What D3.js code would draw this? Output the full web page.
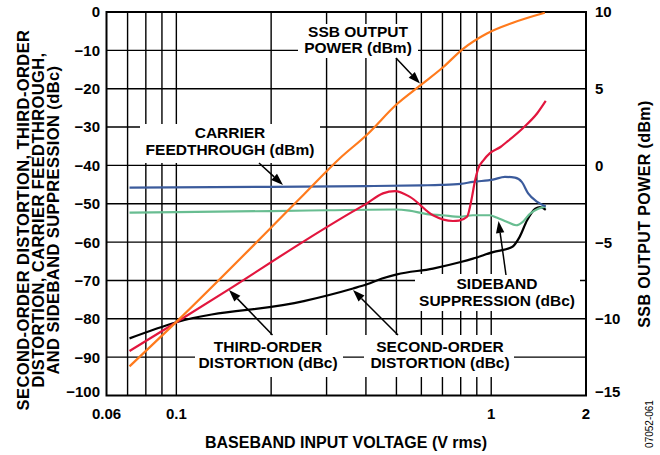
<!DOCTYPE html>
<html><head><meta charset="utf-8">
<script src="https://cdn.jsdelivr.net/npm/d3@7"></script>
<style>
body{margin:0;background:#fff}
svg{display:block}
text{font-family:"Liberation Sans",Arial,Helvetica,sans-serif;font-weight:bold;fill:#000}
</style>
</head><body>
<svg id="c" width="660" height="455"></svg>
<script>
// ---- tick / grid definitions ----
const xTickValues = [0.06, 0.1, 1, 2];
const xTickLabels = ["0.06", "0.1", "1", "2"];
const xGridValues = [0.07, 0.08, 0.09, 0.1, 0.2, 0.3, 0.4, 0.5, 0.6, 0.7, 0.8, 0.9, 1];
const leftTickValues = [0, -10, -20, -30, -40, -50, -60, -70, -80, -90, -100];
const rightTickValues = [10, 5, 0, -5, -10, -15];

// ---- series ----
// SSB output power (dBm, right axis)
const ssbV = [0.071, 0.1, 0.254, 0.33, 0.403, 0.502, 0.594, 0.703, 0.814, 0.969, 1.172, 1.48];
const ssbP = [-13.1, -10.2, -1.9, 0.45, 2.0, 4.0, 5.2, 6.4, 7.6, 8.6, 9.3, 9.95];
// Carrier feedthrough (dBm, left axis)
const cftV = [0.071, 0.2, 0.4, 0.6, 0.69, 0.8, 0.875, 1.013, 1.106, 1.19, 1.25, 1.31, 1.40, 1.49];
const cftD = [-45.8, -45.6, -45.4, -45.2, -45.1, -44.8, -44.3, -43.7, -43.0, -43.2, -44.3, -47.3, -49.5, -50.7];
// Sideband suppression (dBc)
const sbsV = [0.071, 0.1, 0.2, 0.3, 0.495, 0.55, 0.625, 0.7, 0.795, 0.875, 0.99, 1.04, 1.12, 1.2, 1.26, 1.327, 1.41, 1.49];
const sbsD = [-52.3, -52.2, -51.9, -51.7, -51.5, -51.8, -52.7, -53.0, -53.4, -53.0, -53.0, -53.6, -54.7, -55.6, -54.7, -52.6, -51.3, -50.7];
// Third-order distortion (dBc)
const hd3V = [0.071, 0.1, 0.149, 0.254, 0.364, 0.403, 0.453, 0.495, 0.552, 0.653, 0.756, 0.79, 0.838, 0.869, 0.888, 0.908, 0.946, 0.991, 1.07, 1.12, 1.26, 1.40, 1.49];
const hd3D = [-88.4, -80.9, -72.0, -59.8, -52.0, -49.9, -47.3, -46.7, -48.2, -53.0, -54.5, -54.4, -53.4, -48.2, -44.0, -41.0, -38.6, -36.8, -35.2, -33.9, -30.3, -26.4, -23.2];
// Second-order distortion (dBc)
const hd2V = [0.071, 0.1, 0.254, 0.364, 0.403, 0.45, 0.502, 0.653, 0.8, 0.875, 1.013, 1.164, 1.23, 1.3, 1.38, 1.43, 1.49];
const hd2D = [-85.1, -80.9, -75.4, -72.1, -71.0, -69.5, -68.4, -66.9, -65.2, -64.3, -62.6, -61.3, -58.7, -54.3, -51.3, -50.9, -51.6];

// ---- layout ----
const L = 106.5, R = 586, T = 12, B = 395.5;
const svg = d3.select("#c");
const x = d3.scaleLog().domain([0.06, 2]).range([L, R]);
const y = d3.scaleLinear().domain([-100, 0]).range([B, T]);
const yR = d3.scaleLinear().domain([-15, 10]).range([B, T]);
const fmt = v => (v < 0 ? "\u2212" + Math.abs(v) : String(v));

svg.append("rect").attr("width", 660).attr("height", 455).attr("fill", "#fff");

// gridlines
const g = svg.append("g").attr("stroke", "#000").attr("stroke-width", 1.4);
g.selectAll("line.v").data(xGridValues).join("line")
  .attr("x1", d => x(d)).attr("x2", d => x(d)).attr("y1", T).attr("y2", B);
g.selectAll("line.h").data(leftTickValues.slice(1, -1)).join("line")
  .attr("x1", L).attr("x2", R).attr("y1", d => y(d)).attr("y2", d => y(d));

// label boxes (white) hiding grid
const labels = [
  {bx: 298, by: 24, bw: 120, bh: 34, cx: 358, ys: [31.7, 47.5], lines: ["SSB OUTPUT", "POWER (dBm)"],
   arrow: [396, 58, 420, 83.5]},
  {bx: 140, by: 124, bw: 180, bh: 39, cx: 230, ys: [132, 149], lines: ["CARRIER", "FEEDTHROUGH (dBm)"],
   arrow: [259, 163, 283, 185]},
  {bx: 195, by: 335, bw: 148, bh: 42, cx: 268, ys: [346.7, 362], lines: ["THIRD-ORDER", "DISTORTION (dBc)"],
   arrow: [272.5, 335, 229, 290]},
  {bx: 364, by: 335, bw: 150, bh: 42, cx: 440, ys: [346.5, 362], lines: ["SECOND-ORDER", "DISTORTION (dBc)"],
   arrow: [398, 335, 353, 290]},
  {bx: 415, by: 274, bw: 165, bh: 37, cx: 497, ys: [283.5, 300], lines: ["SIDEBAND", "SUPPRESSION (dBc)"],
   arrow: [506, 275, 498.5, 221]}
];
svg.append("g").selectAll("rect").data(labels).join("rect")
  .attr("x", d => d.bx).attr("y", d => d.by).attr("width", d => d.bw).attr("height", d => d.bh)
  .attr("fill", "#fff");

// frame
svg.append("rect").attr("x", L).attr("y", T).attr("width", R - L).attr("height", B - T)
  .attr("fill", "none").attr("stroke", "#000").attr("stroke-width", 2);

// curves
const lineL = d3.line().x(d => x(d[0])).y(d => y(d[1])).curve(d3.curveMonotoneX);
const lineR = d3.line().x(d => x(d[0])).y(d => yR(d[1])).curve(d3.curveMonotoneX);
const zip = (a, b) => a.map((v, i) => [v, b[i]]);
const series = [
  {pts: zip(hd2V, hd2D), color: "#000000", gen: lineL},
  {pts: zip(sbsV, sbsD), color: "#68bd91", gen: lineL},
  {pts: zip(cftV, cftD), color: "#3b5b9c", gen: lineL},
  {pts: zip(hd3V, hd3D), color: "#e2163e", gen: lineL},
  {pts: zip(ssbV, ssbP), color: "#ff7a1c", gen: lineR}
];
svg.append("g").selectAll("path").data(series).join("path")
  .attr("d", d => d.gen(d.pts)).attr("fill", "none")
  .attr("stroke", d => d.color).attr("stroke-width", 2.2).attr("stroke-linejoin", "round");

// annotation texts
const AFS = 15.5;
labels.forEach(lb => {
  lb.lines.forEach((t, i) => {
    svg.append("text").attr("x", lb.cx).attr("y", lb.ys[i] + 0.36 * AFS)
      .attr("text-anchor", "middle").attr("font-size", AFS).text(t);
  });
  const [x1, y1, x2, y2] = lb.arrow;
  const ang = Math.atan2(y2 - y1, x2 - x1);
  const hl = 12, hw = 4.2;
  const bxp = x2 - hl * Math.cos(ang), byp = y2 - hl * Math.sin(ang);
  svg.append("line").attr("x1", x1).attr("y1", y1).attr("x2", bxp).attr("y2", byp)
    .attr("stroke", "#000").attr("stroke-width", 1.5);
  const px = -Math.sin(ang), py = Math.cos(ang);
  svg.append("path").attr("d",
    `M${x2},${y2}L${bxp + px * hw},${byp + py * hw}L${bxp - px * hw},${byp - py * hw}Z`)
    .attr("fill", "#000");
});

// left ticks
const TFS = 15;
svg.append("g").selectAll("text").data(leftTickValues).join("text")
  .attr("x", 100).attr("y", d => y(d) + 0.36 * TFS - (d === -100 ? 4 : 0))
  .attr("text-anchor", "end").attr("font-size", TFS).text(fmt);
// right ticks
svg.append("g").selectAll("text").data(rightTickValues).join("text")
  .attr("x", 595).attr("y", d => yR(d) + 0.36 * TFS - (d === -15 ? 4 : 0))
  .attr("text-anchor", "start").attr("font-size", TFS).text(fmt);
// x ticks
svg.append("g").selectAll("text").data(xTickValues).join("text")
  .attr("x", d => x(d)).attr("y", 419)
  .attr("text-anchor", "middle").attr("font-size", TFS).text((d, i) => xTickLabels[i]);

// axis titles
svg.append("text").attr("x", 346).attr("y", 448).attr("text-anchor", "middle")
  .attr("font-size", 16).text("BASEBAND INPUT VOLTAGE (V rms)");
const leftTitle = ["SECOND-ORDER DISTORTION, THIRD-ORDER", "DISTORTION, CARRIER FEEDTHROUGH,", "AND SIDEBAND SUPPRESSION (dBc)"];
const ltx = [23, 38, 53];
leftTitle.forEach((t, i) => {
  svg.append("text").attr("transform", `translate(${ltx[i] + 0.36 * 16.5},220) rotate(-90)`)
    .attr("text-anchor", "middle").attr("font-size", 16.5).attr("letter-spacing", 0.4).text(t);
});
svg.append("text").attr("transform", `translate(${644 + 0.36 * 16},214) rotate(-90)`)
  .attr("text-anchor", "middle").attr("font-size", 16).attr("letter-spacing", 0.4).text("SSB OUTPUT POWER (dBm)");
svg.append("text").attr("transform", `translate(${649 + 3.5},424) rotate(-90)`)
  .attr("text-anchor", "middle").attr("font-size", 10)
  .style("font-weight", "normal").text("07052-061");
</script>
</body></html>
